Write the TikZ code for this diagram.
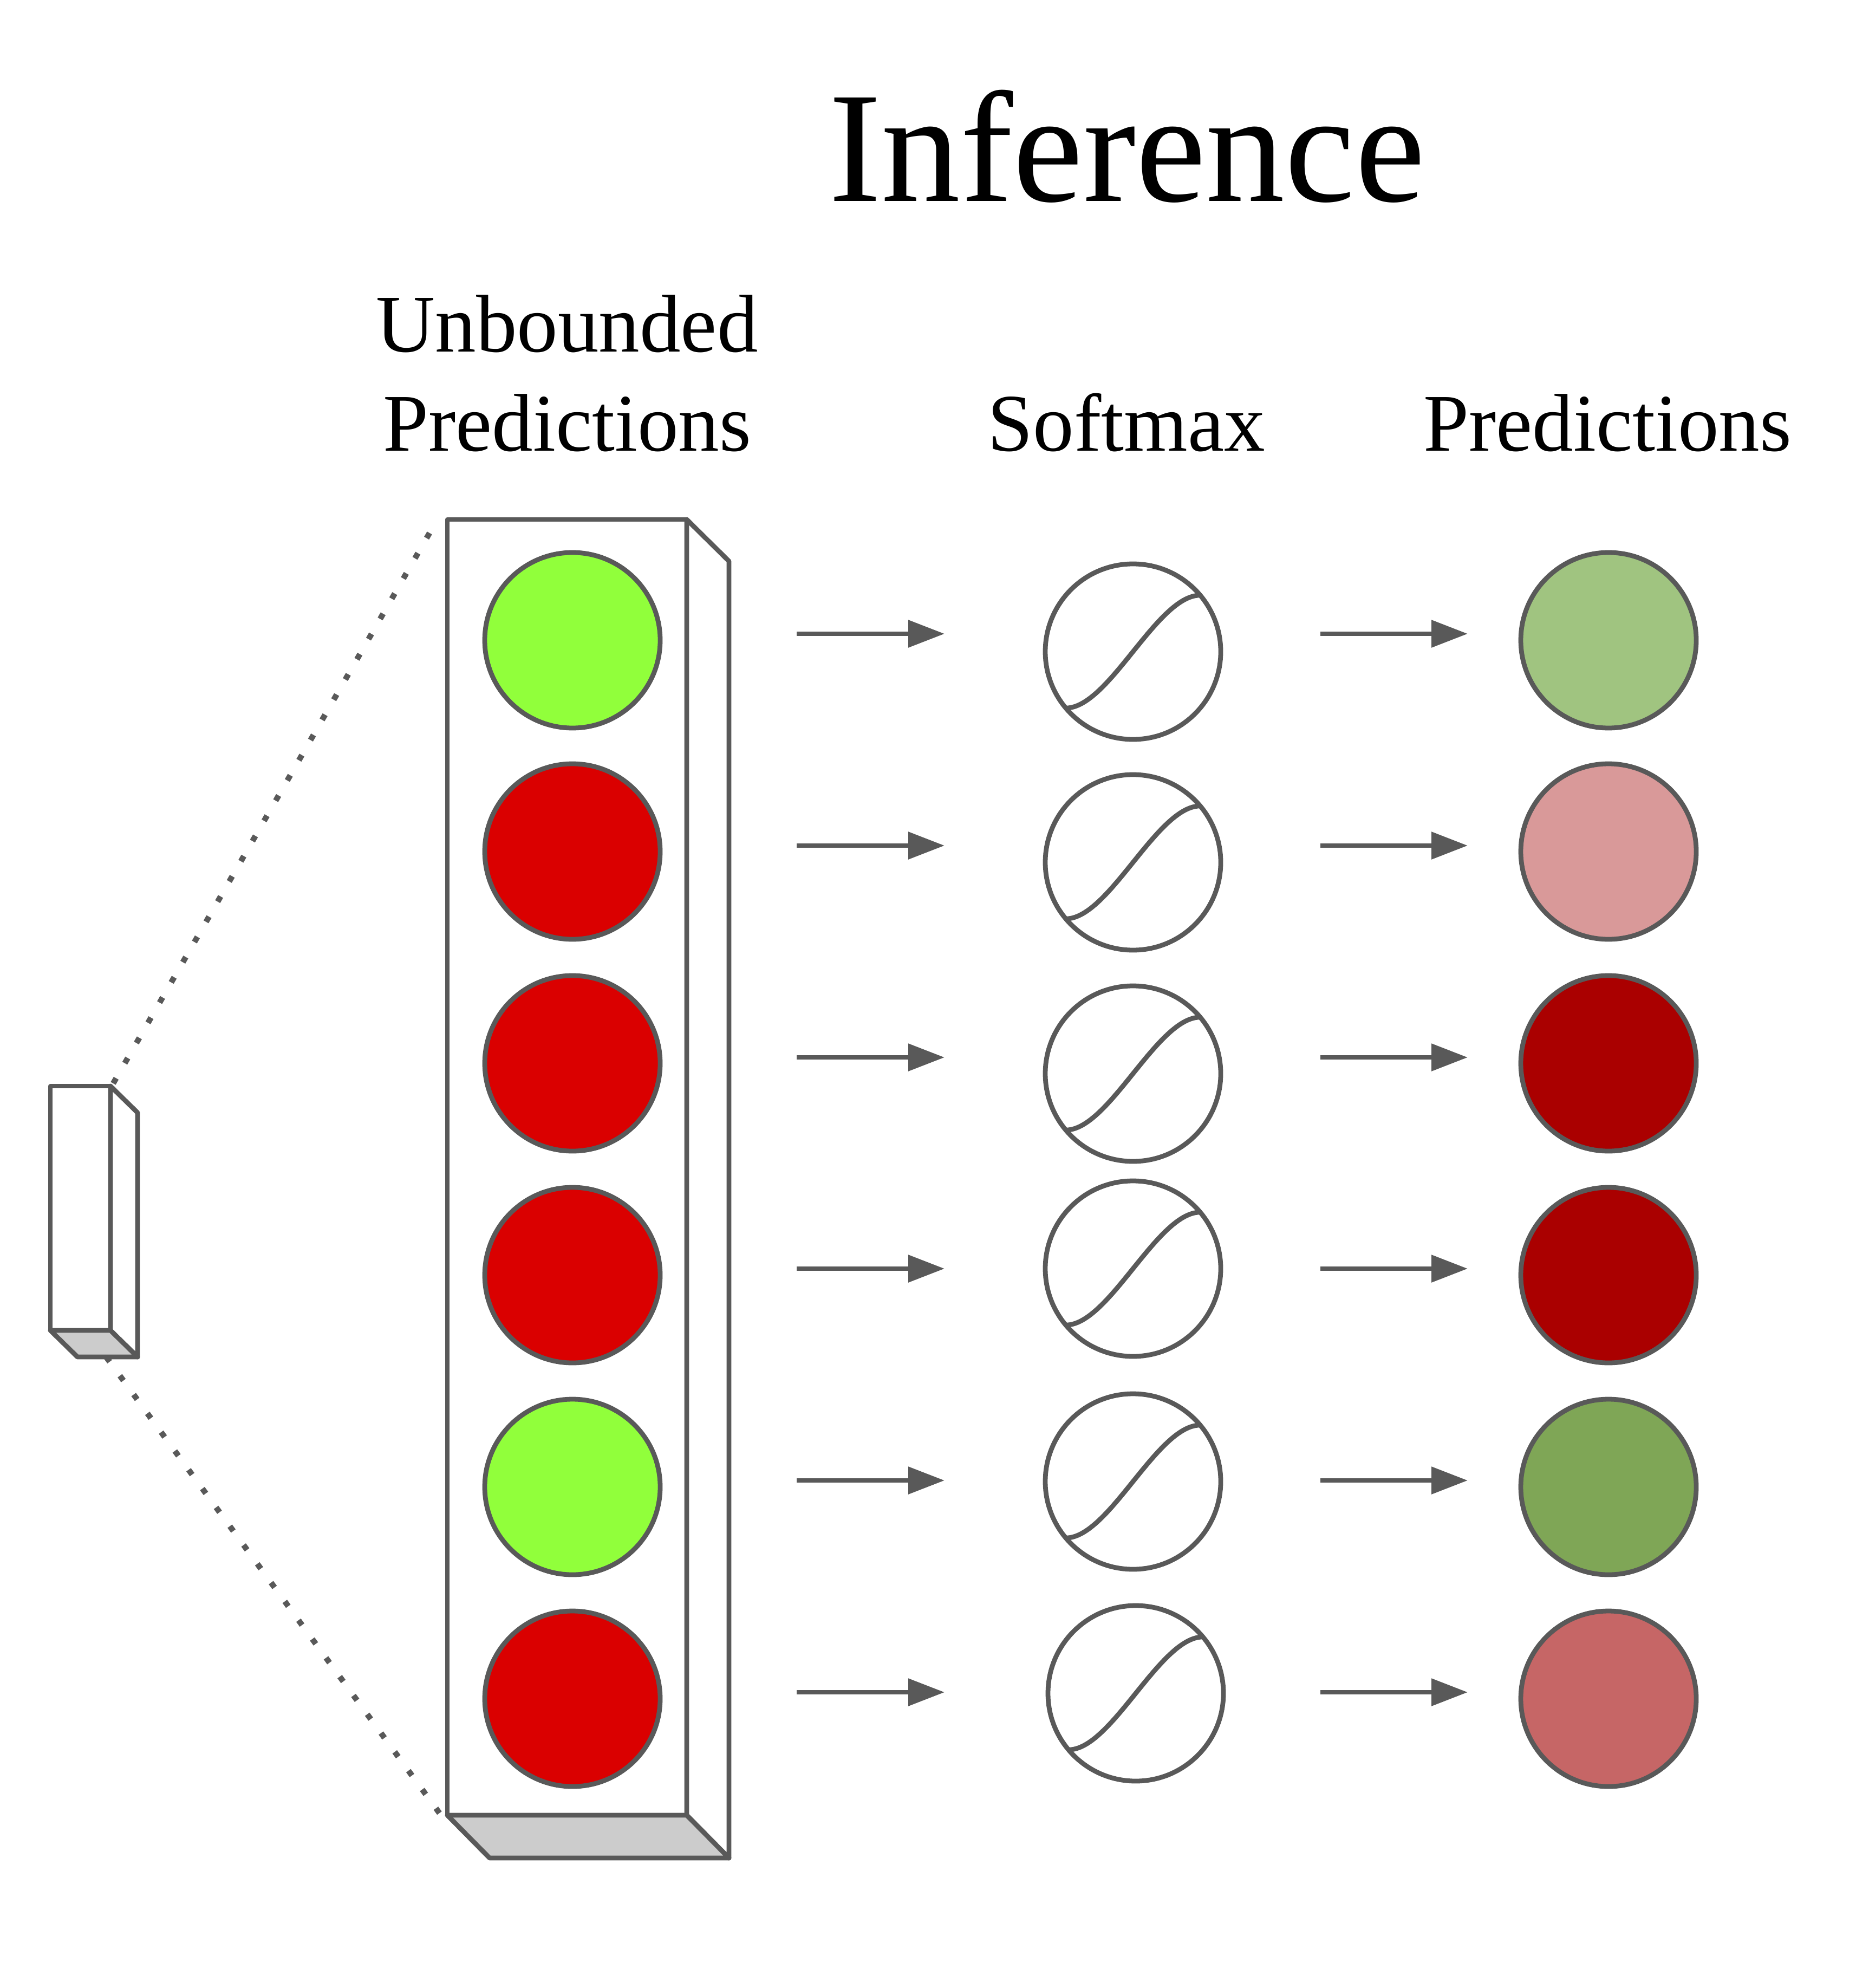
\documentclass[tikz,border=0pt]{standalone}
\usepackage{fontspec}
\setmainfont{Liberation Serif}
\usetikzlibrary{arrows.meta}

\definecolor{edgegray}{HTML}{595959}
\definecolor{basegray}{HTML}{CCCCCC}
\definecolor{hotgreen}{HTML}{91FF3B}
\definecolor{hotred}{HTML}{DA0000}
\definecolor{softgreen}{HTML}{A0C480}
\definecolor{softpink}{HTML}{D99999}
\definecolor{deepred}{HTML}{AA0000}
\definecolor{olivegreen}{HTML}{7FA656}
\definecolor{salmonred}{HTML}{C66666}

\tikzset{
    unit/.style={circle, draw=edgegray, line width=2.5pt, minimum size=3.24cm, inner sep=0pt, outer sep=0pt},
    face/.style={draw=edgegray, line width=2.5pt, line join=round},
    curve/.style={draw=edgegray, line width=2.5pt},
    arr/.style={draw=edgegray, line width=2.5pt, -{Triangle[length=0.67cm, width=0.49cm]}},
    dots/.style={draw=edgegray, line width=3pt, dash pattern=on 0.11cm off 0.32cm},
    heading/.style={font=\fontsize{43}{51.8}\selectfont, align=center, anchor=base}
}

\begin{document}
\begin{tikzpicture}
    \useasboundingbox (0,0) rectangle (34.26,-36.70);

    \node[font=\fontsize{83}{99}\selectfont, anchor=base] (title) at (20.81,-3.72) {Inference};
    \node[heading] (unbounded) at (10.47,-8.32) {Unbounded\\Predictions};
    \node[heading] (softmax)   at (20.80,-8.32) {Softmax};
    \node[heading] (predicted) at (29.68,-8.32) {Predictions};

    % small prism
    \draw[face] (0.93,-20.05) rectangle (2.04,-24.56);
    \draw[face] (2.04,-20.05) -- (2.54,-20.54) -- (2.54,-25.05) -- (2.04,-24.56) -- cycle;
    \draw[face, fill=basegray] (0.93,-24.56) -- (1.43,-25.05) -- (2.54,-25.05) -- (2.04,-24.56) -- cycle;

    % big prism
    \draw[face] (8.26,-9.59) rectangle (12.68,-33.51);
    \draw[face] (12.68,-9.59) -- (13.46,-10.36) -- (13.46,-34.30) -- (12.68,-33.51) -- cycle;
    \draw[face, fill=basegray] (8.26,-33.51) -- (9.04,-34.30) -- (13.46,-34.30) -- (12.68,-33.51) -- cycle;

    \coordinate (smalltop) at (2.09,-20.00);
    \coordinate (smallbot) at (1.96,-25.05);
    \coordinate (bigtop)   at (8.04,-9.65);
    \coordinate (bigbot)   at (8.15,-33.52);
    \draw[dots] (smalltop) -- (bigtop);
    \draw[dots] (smallbot) -- (bigbot);

    \node[unit, fill=hotgreen] (u1) at (10.57,-11.82) {};
    \node[unit, fill=hotred]   (u2) at (10.57,-15.72) {};
    \node[unit, fill=hotred]   (u3) at (10.57,-19.63) {};
    \node[unit, fill=hotred]   (u4) at (10.57,-23.54) {};
    \node[unit, fill=hotgreen] (u5) at (10.57,-27.45) {};
    \node[unit, fill=hotred]   (u6) at (10.57,-31.36) {};

    \node[unit] (s1) at (20.92,-12.03) {};
    \node[unit] (s2) at (20.92,-15.92) {};
    \node[unit] (s3) at (20.92,-19.82) {};
    \node[unit] (s4) at (20.92,-23.42) {};
    \node[unit] (s5) at (20.92,-27.35) {};
    \node[unit] (s6) at (20.97,-31.26) {};

    \draw[curve] (s1.220) .. controls +(0.8,0) and +(-0.8,0) .. (s1.40);
    \draw[curve] (s2.220) .. controls +(0.8,0) and +(-0.8,0) .. (s2.40);
    \draw[curve] (s3.220) .. controls +(0.8,0) and +(-0.8,0) .. (s3.40);
    \draw[curve] (s4.220) .. controls +(0.8,0) and +(-0.8,0) .. (s4.40);
    \draw[curve] (s5.220) .. controls +(0.8,0) and +(-0.8,0) .. (s5.40);
    \draw[curve] (s6.220) .. controls +(0.8,0) and +(-0.8,0) .. (s6.40);

    \node[unit, fill=softgreen]  (p1) at (29.70,-11.82) {};
    \node[unit, fill=softpink]   (p2) at (29.70,-15.72) {};
    \node[unit, fill=deepred]    (p3) at (29.70,-19.63) {};
    \node[unit, fill=deepred]    (p4) at (29.70,-23.54) {};
    \node[unit, fill=olivegreen] (p5) at (29.70,-27.45) {};
    \node[unit, fill=salmonred]  (p6) at (29.70,-31.36) {};

    % arrow ends
    \coordinate (a1) at (14.71,-11.70); \coordinate (b1) at (17.44,-11.70); \coordinate (c1) at (24.38,-11.70); \coordinate (d1) at (27.10,-11.70);
    \coordinate (a2) at (14.71,-15.61); \coordinate (b2) at (17.44,-15.61); \coordinate (c2) at (24.38,-15.61); \coordinate (d2) at (27.10,-15.61);
    \coordinate (a3) at (14.71,-19.52); \coordinate (b3) at (17.44,-19.52); \coordinate (c3) at (24.38,-19.52); \coordinate (d3) at (27.10,-19.52);
    \coordinate (a4) at (14.71,-23.42); \coordinate (b4) at (17.44,-23.42); \coordinate (c4) at (24.38,-23.42); \coordinate (d4) at (27.10,-23.42);
    \coordinate (a5) at (14.71,-27.33); \coordinate (b5) at (17.44,-27.33); \coordinate (c5) at (24.38,-27.33); \coordinate (d5) at (27.10,-27.33);
    \coordinate (a6) at (14.71,-31.24); \coordinate (b6) at (17.44,-31.24); \coordinate (c6) at (24.38,-31.24); \coordinate (d6) at (27.10,-31.24);

    \draw[arr] (a1) -- (b1);
    \draw[arr] (a2) -- (b2);
    \draw[arr] (a3) -- (b3);
    \draw[arr] (a4) -- (b4);
    \draw[arr] (a5) -- (b5);
    \draw[arr] (a6) -- (b6);
    \draw[arr] (c1) -- (d1);
    \draw[arr] (c2) -- (d2);
    \draw[arr] (c3) -- (d3);
    \draw[arr] (c4) -- (d4);
    \draw[arr] (c5) -- (d5);
    \draw[arr] (c6) -- (d6);
\end{tikzpicture}
\end{document}
